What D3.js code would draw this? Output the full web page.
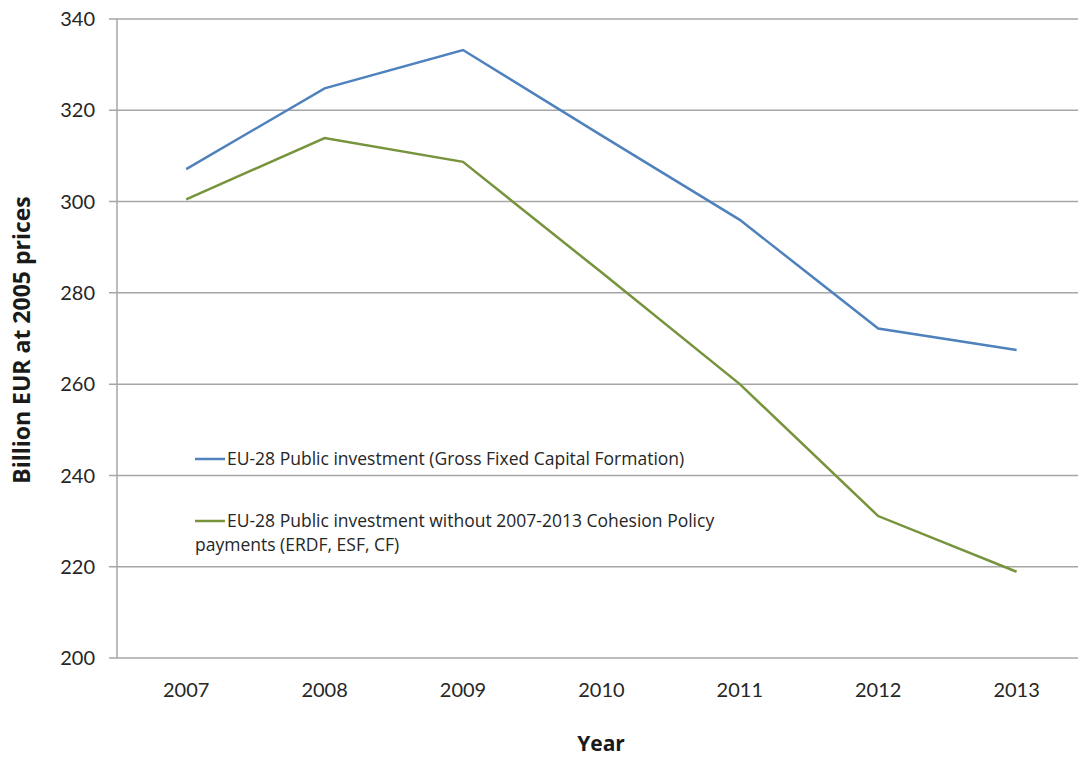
<!DOCTYPE html>
<html>
<head>
<meta charset="utf-8">
<script src="https://cdn.jsdelivr.net/npm/d3@7"></script>
<style>
  body { margin: 0; background: #fff; }
  text { font-family: Lato, "Open Sans", sans-serif; }
</style>
</head>
<body>
<div id="chart"></div>
<script>
const years = ['2007', '2008', '2009', '2010', '2011', '2012', '2013']
const publicInvestment = [307.1, 324.8, 333.2, 314.5, 296.0, 272.2, 267.5]
const withoutCohesion = [300.5, 313.9, 308.7, 284.5, 260.0, 231.1, 218.9]
const yTicks = [200, 220, 240, 260, 280, 300, 320, 340]

const seriesNames = [
  ['EU-28 Public investment (Gross Fixed Capital Formation)'],
  ['EU-28 Public investment without 2007-2013 Cohesion Policy', 'payments (ERDF, ESF, CF)']
]

const fullWidth = 1078, fullHeight = 757
const margin = { top: 19, left: 117 }
const step = 138.4
const width = step * years.length,
  height = 639

const svg = d3.select('#chart')
  .append('svg')
    .attr('width', fullWidth)
    .attr('height', fullHeight)
  .append('g')
    .attr('transform', `translate(${margin.left}, ${margin.top})`)

const xScale = d3.scaleBand()
  .domain(years)
  .range([0, width])

const yScale = d3.scaleLinear()
  .domain([200, 340])
  .range([height, 0])

// gridlines + left ticks
svg.append('g')
  .selectAll('line')
  .data(yTicks)
  .enter()
  .append('line')
    .attr('x1', -8)
    .attr('x2', width)
    .attr('y1', d => yScale(d))
    .attr('y2', d => yScale(d))
    .style('stroke', '#a6a6a6')
    .style('stroke-width', 1.5)

// y axis line
svg.append('line')
  .attr('x1', 0).attr('x2', 0)
  .attr('y1', 0).attr('y2', height)
  .style('stroke', '#a6a6a6')
  .style('stroke-width', 1.5)

svg.append('g')
  .selectAll('text')
  .data(yTicks)
  .enter()
  .append('text')
    .attr('x', -22)
    .attr('y', d => yScale(d))
    .attr('dy', '0.36em')
    .attr('text-anchor', 'end')
    .style('font-size', '20px')
    .style('fill', '#262626')
    .text(d => d)

svg.append('g')
  .selectAll('text')
  .data(years)
  .enter()
  .append('text')
    .attr('x', d => xScale(d) + xScale.bandwidth() / 2)
    .attr('y', height + 32)
    .attr('dy', '0.36em')
    .attr('text-anchor', 'middle')
    .style('font-size', '20px')
    .style('fill', '#262626')
    .text(d => d)

// axis titles
svg.append('text')
  .attr('x', 601 - margin.left)
  .attr('y', 743 - margin.top)
  .attr('dy', '0.36em')
  .attr('text-anchor', 'middle')
  .style('font-family', '"Open Sans", sans-serif')
  .style('font-size', '21px')
  .style('font-weight', 'bold')
  .style('fill', '#1a1a1a')
  .text('Year')

svg.append('text')
  .attr('transform', `translate(${22 - margin.left}, ${340 - margin.top}) rotate(-90)`)
  .attr('dy', '0.36em')
  .attr('text-anchor', 'middle')
  .style('font-family', '"Open Sans", sans-serif')
  .style('font-size', '23px')
  .style('font-weight', 'bold')
  .style('fill', '#1a1a1a')
  .text('Billion EUR at 2005 prices')

const colors = ['#4f81bd', '#77933c']
const series = [publicInvestment, withoutCohesion]

const line = d3.line()
  .x((d, i) => xScale(years[i]) + xScale.bandwidth() / 2)
  .y(d => yScale(d))

svg.selectAll('.line')
  .data(series)
  .enter()
  .append('path')
    .attr('class', 'line')
    .attr('d', d => line(d))
    .style('stroke', (d, i) => colors[i])
    .style('stroke-width', 2.5)
    .style('fill', 'none')

// legend
const legendY = [459, 521]
const legend = svg.append('g')
  .attr('transform', `translate(${195 - margin.left}, ${-margin.top})`)

seriesNames.forEach((lines, i) => {
  legend.append('line')
    .attr('x1', 0).attr('x2', 30)
    .attr('y1', legendY[i]).attr('y2', legendY[i])
    .style('stroke', colors[i])
    .style('stroke-width', 2.5)
  lines.forEach((t, j) => {
    legend.append('text')
      .attr('x', j === 0 ? 32 : 0)
      .attr('y', legendY[i] + j * 24)
      .attr('dy', '0.36em')
      .style('font-family', '"Open Sans", sans-serif')
      .style('font-size', '17.5px')
      .style('fill', '#262626')
      .text(t)
  })
})
</script>
</body>
</html>
